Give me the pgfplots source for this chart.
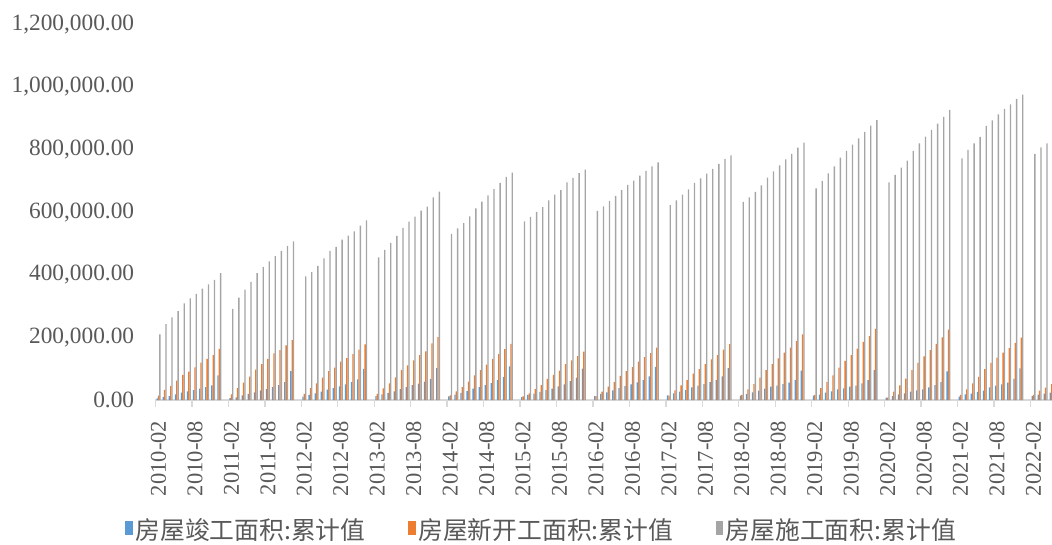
\documentclass[border=0pt]{standalone}
\usepackage{fontspec}
\setmainfont{Liberation Serif}
\newfontfamily\cjk{Noto Sans CJK SC}
\usepackage{pgfplots}
\usepackage{pgfplotstable}
\pgfplotsset{compat=1.18}
\definecolor{cblue}{HTML}{5B9BD5}
\definecolor{corange}{HTML}{ED7D31}
\definecolor{cgrey}{HTML}{A5A5A5}
\definecolor{txtgrey}{HTML}{595959}
\definecolor{axgrey}{HTML}{D9D9D9}

% idx = months since 2010-02 (January slots empty)
\pgfplotstableread{
idx date blue orange grey
0 2010-02 5000 13800 209800
1 2010-03 9600 32000 242700
2 2010-04 12800 44700 264000
3 2010-05 18100 61700 284000
4 2010-06 23400 79900 308800
5 2010-07 27700 90400 324800
6 2010-08 31900 104400 338600
7 2010-09 36200 119200 355500
8 2010-10 41500 131000 369500
9 2010-11 46800 143700 383300
10 2010-12 78744 163647 405356
12 2011-02 6400 18100 290700
13 2011-03 8500 38300 326800
14 2011-04 14900 55300 352400
15 2011-05 19200 74500 376900
16 2011-06 24500 96900 405600
17 2011-07 30900 115000 424800
18 2011-08 35100 131000 442900
19 2011-09 41500 149000 459900
20 2011-10 47900 159700 475900
21 2011-11 57500 174600 491900
22 2011-12 92620 191237 506775
24 2012-02 10600 19200 395000
25 2012-03 16000 38300 408800
26 2012-04 21300 53200 428000
27 2012-05 26600 71300 452500
28 2012-06 33000 92600 475900
29 2012-07 38300 103300 488700
30 2012-08 43700 122400 512000
31 2012-09 50000 134100 524800
32 2012-10 57500 146900 538800
33 2012-11 66000 160700 556800
34 2012-12 99425 177334 573418
36 2013-02 12800 19200 455700
37 2013-03 18100 37300 479100
38 2013-04 22400 53200 501500
39 2013-05 27700 72400 523800
40 2013-06 35100 95800 549400
41 2013-07 41500 110700 569600
42 2013-08 47900 126700 585600
43 2013-09 52100 143700 604700
44 2013-10 58500 155400 617500
45 2013-11 67100 181000 647400
46 2013-12 101435 201208 665572
48 2014-02 11700 14900 530200
49 2014-03 17000 27700 548300
50 2014-04 22400 41500 565300
51 2014-05 28700 58500 586600
52 2014-06 36200 78800 612200
53 2014-07 41500 95800 633500
54 2014-08 47900 112800 653700
55 2014-09 54300 131000 673900
56 2014-10 63900 146900 693100
57 2014-11 73500 162900 712300
58 2014-12 107459 179592 726482
60 2015-02 9600 11700 570600
61 2015-03 16000 21300 584500
62 2015-04 20200 35100 600500
63 2015-05 25600 47900 616400
64 2015-06 31900 67100 637700
65 2015-07 36200 79900 655800
66 2015-08 43700 93700 670700
67 2015-09 50000 115000 695200
68 2015-10 60700 126700 709100
69 2015-11 71300 140500 725000
70 2015-12 100039 154454 735693
72 2016-02 12800 12800 603700
73 2016-03 19200 26600 618600
74 2016-04 24500 42600 635600
75 2016-05 30900 57500 651600
76 2016-06 38300 76700 670700
77 2016-07 44700 92600 686700
78 2016-08 50000 105400 700500
79 2016-09 56400 122400 716500
80 2016-10 63900 137300 731400
81 2016-11 75600 150100 746400
82 2016-12 106128 166928 758975
84 2017-02 14900 13800 622800
85 2017-03 21300 30900 637700
86 2017-04 26600 46800 655800
87 2017-05 31900 63900 672800
88 2017-06 40500 84100 693100
89 2017-07 45800 99000 708000
90 2017-08 51100 115000 723000
91 2017-09 57500 129900 737800
92 2017-10 63900 143700 753800
93 2017-11 75600 160700 769800
94 2017-12 101486 178654 781484
96 2018-02 13800 16000 632400
97 2018-03 19200 34100 647300
98 2018-04 24500 51100 664400
99 2018-05 29800 71300 685600
100 2018-06 36200 95800 710100
101 2018-07 42600 115000 730400
102 2018-08 45800 133100 749500
103 2018-09 51100 151100 768700
104 2018-10 55300 167100 785700
105 2018-11 63900 188400 805900
106 2018-12 93550 209342 822300
108 2019-02 13800 16000 676100
109 2019-03 17000 38300 699500
110 2019-04 23400 57500 724000
111 2019-05 27700 78800 746400
112 2019-06 34100 103300 774000
113 2019-07 37300 124600 795300
114 2019-08 42600 143700 815500
115 2019-09 45800 164000 835900
116 2019-10 53200 185300 856000
117 2019-11 63900 204400 876100
118 2019-12 95942 227154 893821
120 2020-02 7500 7500 695300
121 2020-03 12800 26600 718700
122 2020-04 18100 46800 742000
123 2020-05 21300 68000 764300
124 2020-06 26600 95800 795300
125 2020-07 30900 118200 819900
126 2020-08 34100 139500 841000
127 2020-09 40500 159700 862400
128 2020-10 47900 178900 882500
129 2020-11 57500 200200 903900
130 2020-12 91218 224433 926759
132 2021-02 10600 16000 771900
133 2021-03 18100 34100 798500
134 2021-04 20200 53200 819900
135 2021-05 25600 73500 840000
136 2021-06 29800 99000 875200
137 2021-07 40500 118200 893300
138 2021-08 45800 135200 912500
139 2021-09 50000 151100 929500
140 2021-10 55300 166100 944500
141 2021-11 67100 182100 961400
142 2021-12 101412 198895 975387
144 2022-02 12800 16000 785700
145 2022-03 17000 29800 807100
146 2022-04 20200 39400 819900
147 2022-05 23400 51100 832000
}\datatable

\begin{document}
\begin{tikzpicture}
\begin{axis}[
  at={(0,0)}, anchor=south west,
  scale only axis,
  width=672.4pt, height=281.8pt,
  xmin=-0.5, xmax=147.05,
  ymin=0, ymax=1200000,
  enlargelimits=false,
  axis lines*=left,
  y axis line style={draw=none},
  x axis line style={draw=axgrey, line width=1pt},
  xtick={0,6,...,144},
  xticklabels={2010-02,2010-08,2011-02,2011-08,2012-02,2012-08,2013-02,2013-08,2014-02,2014-08,2015-02,2015-08,2016-02,2016-08,2017-02,2017-08,2018-02,2018-08,2019-02,2019-08,2020-02,2020-08,2021-02,2021-08,2022-02},
  minor xtick={-0.5,5.5,...,143.5},
  tick align=outside,
  major tick length=0pt,
  minor tick length=5pt,
  minor tick style={draw=axgrey, line width=1pt},
  xticklabel style={rotate=90, anchor=east, inner sep=0pt, font=\fontsize{16.9}{20}\selectfont, text=txtgrey},
  xticklabel shift=15.5pt,
  ytick={0,200000,400000,600000,800000,1000000,1200000},
  yticklabels={0.00,{200,000.00},{400,000.00},{600,000.00},{800,000.00},{1,000,000.00},{1,200,000.00}},
  scaled y ticks=false,
  ytick style={draw=none},
  yticklabel style={anchor=east, inner sep=0pt, font=\fontsize{17.5}{20}\selectfont, text=txtgrey},
  yticklabel shift=15.8pt,
  legend columns=3,
  legend style={at={(0.4311,-0.346)}, anchor=center, draw=none, fill=none,
    font=\cjk\fontsize{18.6}{21}\selectfont, text=txtgrey,
    /tikz/every even column/.append style={column sep=30pt}},
  legend image code/.code={\fill[#1] (0pt,-4pt) rectangle (5.5pt,6.5pt);},
]
\addplot[ybar, bar width=0.22, bar shift=-0.22, fill=cblue, draw=none] table[x=idx, y=blue] {\datatable};
\addlegendentry{房屋竣工面积:累计值}
\addplot[ybar, bar width=0.22, bar shift=0, fill=corange, draw=none] table[x=idx, y=orange] {\datatable};
\addlegendentry{房屋新开工面积:累计值}
\addplot[ybar, bar width=0.22, bar shift=0.22, fill=cgrey, draw=none] table[x=idx, y=grey] {\datatable};
\addlegendentry{房屋施工面积:累计值}
\end{axis}
\pgfresetboundingbox
\path[use as bounding box] (-116.625pt,-108pt) rectangle (672.375pt,300pt);
\end{tikzpicture}
\end{document}
